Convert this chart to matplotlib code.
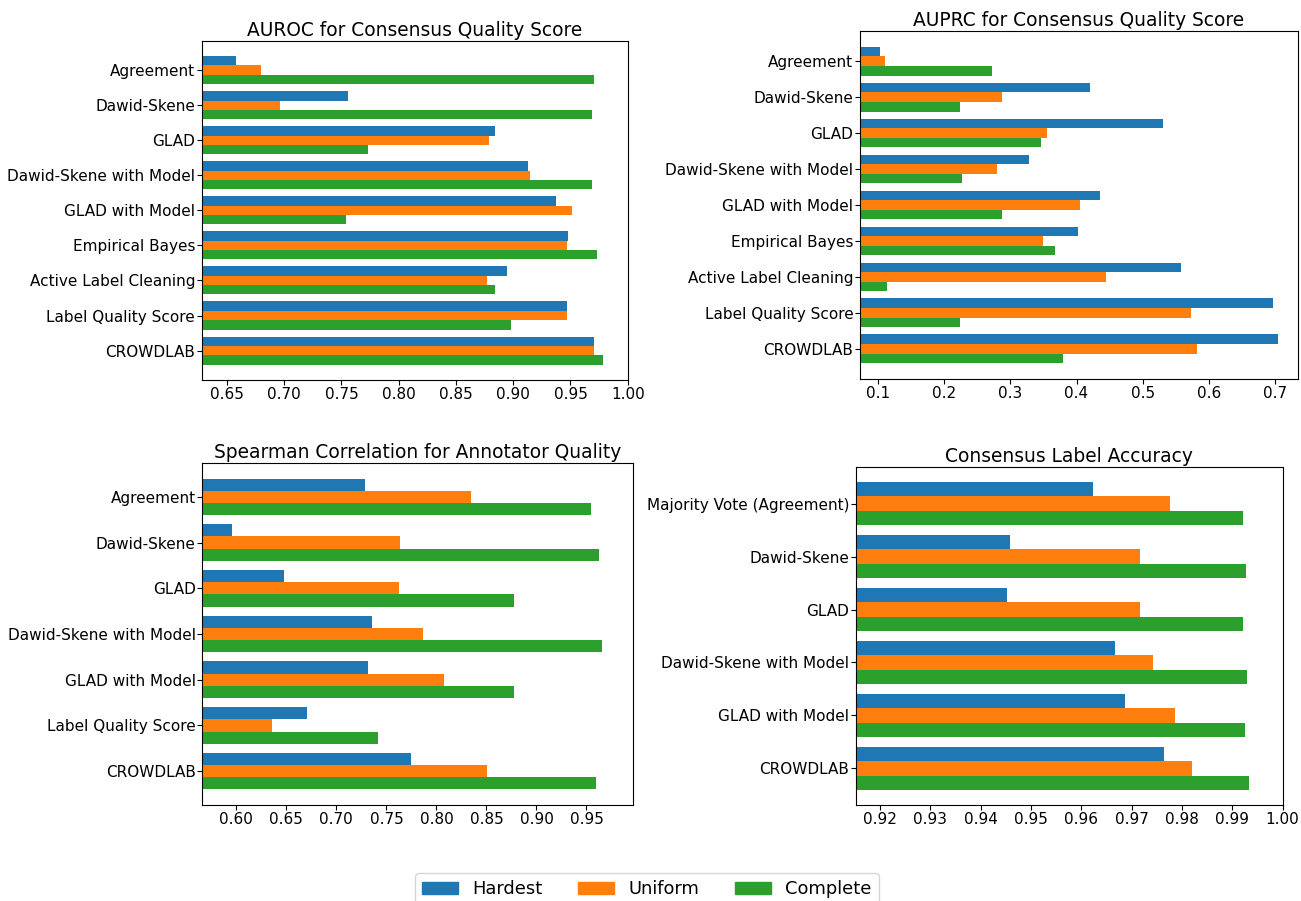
import matplotlib.pyplot as plt
from matplotlib.patches import Patch
import numpy as np

# Methods and scores per panel (Hardest / Uniform / Complete)
methods_cq = ["Agreement", "Dawid-Skene", "GLAD", "Dawid-Skene with Model", "GLAD with Model",
              "Empirical Bayes", "Active Label Cleaning", "Label Quality Score", "CROWDLAB"]
auroc_hardest = [0.658, 0.756, 0.884, 0.913, 0.937, 0.948, 0.895, 0.947, 0.971]
auroc_uniform = [0.680, 0.696, 0.879, 0.915, 0.951, 0.947, 0.877, 0.947, 0.971]
auroc_complete = [0.971, 0.969, 0.773, 0.969, 0.754, 0.973, 0.884, 0.898, 0.978]

auprc_hardest = [0.1035, 0.420, 0.531, 0.328, 0.435, 0.402, 0.557, 0.697, 0.704]
auprc_uniform = [0.111, 0.287, 0.355, 0.280, 0.405, 0.349, 0.445, 0.572, 0.582]
auprc_complete = [0.272, 0.225, 0.347, 0.228, 0.287, 0.367, 0.114, 0.224, 0.379]

methods_aq = ["Agreement", "Dawid-Skene", "GLAD", "Dawid-Skene with Model", "GLAD with Model",
              "Label Quality Score", "CROWDLAB"]
spearman_hardest = [0.729, 0.596, 0.648, 0.736, 0.732, 0.671, 0.775]
spearman_uniform = [0.835, 0.764, 0.763, 0.787, 0.808, 0.636, 0.851]
spearman_complete = [0.955, 0.963, 0.878, 0.966, 0.878, 0.742, 0.960]

methods_acc = ["Majority Vote (Agreement)", "Dawid-Skene", "GLAD", "Dawid-Skene with Model",
               "GLAD with Model", "CROWDLAB"]
acc_hardest = [0.9623, 0.9458, 0.9452, 0.9667, 0.9687, 0.9765]
acc_uniform = [0.9777, 0.9717, 0.9717, 0.9743, 0.9787, 0.9821]
acc_complete = [0.9922, 0.9928, 0.9922, 0.9930, 0.9926, 0.9934]

settings = ["Hardest", "Uniform", "Complete"]
colors = ["tab:blue", "tab:orange", "tab:green"]

W, H = 1301, 901
fig = plt.figure(figsize=(W / 100, H / 100), dpi=100)


def add_panel(box, title, labels, series):
    left, top, right, bottom = box
    ax = fig.add_axes([left / W, 1 - bottom / H, (right - left) / W, (bottom - top) / H])
    y = np.arange(len(labels))
    h = 0.8 / 3
    for k, vals in enumerate(series):
        ax.barh(y + (k - 1) * h, vals, height=h, color=colors[k])
    ax.set_yticks(y)
    ax.set_yticklabels(labels)
    ax.invert_yaxis()
    allv = np.concatenate([np.asarray(s) for s in series])
    ax.set_xlim(allv.min() - 0.03, min(1.0, allv.max() + 0.03))
    ax.tick_params(labelsize=11, length=3.4, pad=1.3)
    ax.set_title(title, fontsize=13.4, pad=3.5)
    return ax


add_panel((201.7, 40.7, 627.7, 380), "AUROC for Consensus Quality Score", methods_cq,
          [auroc_hardest, auroc_uniform, auroc_complete])
add_panel((860, 31, 1298, 379), "AUPRC for Consensus Quality Score", methods_cq,
          [auprc_hardest, auprc_uniform, auprc_complete])
add_panel((202.3, 463, 632.5, 805), "Spearman Correlation for Annotator Quality", methods_aq,
          [spearman_hardest, spearman_uniform, spearman_complete])
add_panel((855.7, 467, 1282.5, 805), "Consensus Label Accuracy", methods_acc,
          [acc_hardest, acc_uniform, acc_complete])

handles = [Patch(color=c, label=s) for c, s in zip(colors, settings)]
fig.legend(handles=handles, loc="upper center", ncol=3, fontsize=12.9,
           bbox_to_anchor=(647 / W, 1 - 864 / H))

fig.savefig("out.png", dpi=100)
